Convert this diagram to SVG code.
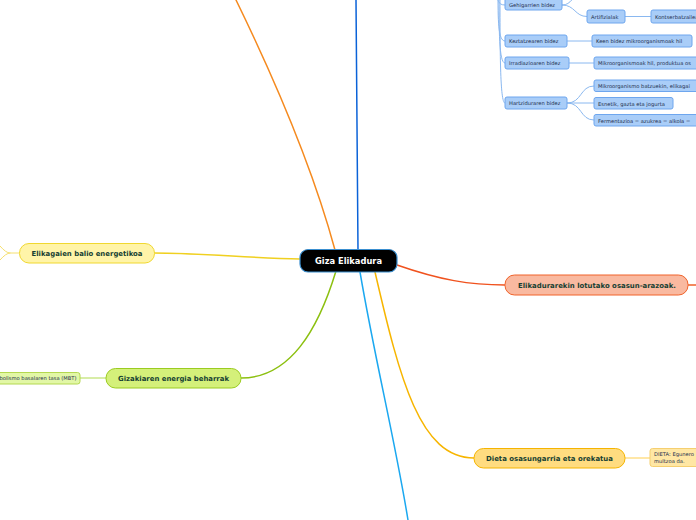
<svg xmlns="http://www.w3.org/2000/svg" width="696" height="520" viewBox="0 0 696 520">
<style>
.c{fill:none;stroke-linecap:round}
.main{font-family:"DejaVu Sans",Verdana,sans-serif;font-weight:bold;font-size:7px;fill:#163f32;text-anchor:middle}
.sm{font-family:"DejaVu Sans",Verdana,sans-serif;font-size:5.2px;fill:#1d2d4d}
.bn{fill:#a9cdf8;stroke:#6ea6ee;stroke-width:1}
.bl{fill:none;stroke:#8ab8f0;stroke-width:1}
</style>
<rect width="696" height="520" fill="#ffffff"/>
<g id="connectors">
<path class="c" d="M335,250 C312,165 275,80 236,0" stroke="#f58a1f" stroke-width="1.5"/>
<path class="c" d="M358,250 L356,0" stroke="#0a62d8" stroke-width="1.5"/>
<path class="c" d="M300,259 C250,258 200,253 154,253" stroke="#f0d020" stroke-width="1.5"/>
<path class="c" d="M336,271 C318,330 290,378 241,378" stroke="#8cc010" stroke-width="1.5"/>
<path class="c" d="M360,272 C375,360 395,440 408,520" stroke="#1ba8f0" stroke-width="1.5"/>
<path class="c" d="M375,272 C400,380 420,458 474,458" stroke="#f7b500" stroke-width="1.5"/>
<path class="c" d="M397,265 C440,280 470,285 505,285" stroke="#f0521e" stroke-width="1.5"/>
<path class="c" d="M688,285 L696,285" stroke="#f0622a" stroke-width="1.5"/>
<path class="c" d="M625,458 L650,458" stroke="#ffe08a" stroke-width="1.5"/>
<path class="c" d="M106,378 L80,378" stroke="#cce88a" stroke-width="1.5"/>
<path class="c" d="M19,253 L10,253 Q6,253 0,246 M10,253 Q6,253 0,260" stroke="#f5e070" stroke-width="1"/>
<path class="bl" d="M497,-10 C497,0 498,5 505,5"/>
<path class="bl" d="M498,-10 C498,20 498,41 505,41"/>
<path class="bl" d="M499,-10 C499,30 499,63 505,63"/>
<path class="bl" d="M500,-10 C500,50 500,103 505,103"/>
<path class="bl" d="M562,5 C572,5 572,-5 580,-5"/>
<path class="bl" d="M562,5 C575,5 575,16.5 587,16.5"/>
<path class="bl" d="M625,16.5 L651,16.5"/>
<path class="bl" d="M567,41 L592,41"/>
<path class="bl" d="M569,63 L594,63"/>
<path class="bl" d="M567,103 C582,103 580,86 594,86"/>
<path class="bl" d="M567,103 L594,103"/>
<path class="bl" d="M567,103 C582,103 580,120 594,120"/>
</g>
<g id="center">
<rect x="300" y="249.5" width="97" height="22.5" rx="8" fill="#000000" stroke="#3a8fd0" stroke-width="1.2"/>
<text x="348.5" y="264" font-family="DejaVu Sans,Verdana,sans-serif" font-weight="bold" font-size="8.3" fill="#ffffff" text-anchor="middle">Giza Elikadura</text>
</g>
<g id="n-balio">
<rect x="19.5" y="243.5" width="135" height="19.5" rx="9.5" fill="#fff4a8" stroke="#f0d830"/>
<text class="main" x="87" y="256" textLength="111" lengthAdjust="spacingAndGlyphs">Elikagaien balio energetikoa</text>
</g>
<g id="n-behar">
<rect x="106" y="368.5" width="135" height="19.5" rx="9.5" fill="#d4f07a" stroke="#9bcc20"/>
<text class="main" x="173.5" y="381" textLength="111" lengthAdjust="spacingAndGlyphs">Gizakiaren energia beharrak</text>
</g>
<g id="n-mbt">
<rect x="-40" y="372.5" width="120" height="11.5" rx="2.5" fill="#e2f7a6" stroke="#b4d850"/>
<text class="sm" x="76.5" y="380.3" text-anchor="end" fill="#1d3020">Metabolismo basalaren tasa (MBT)</text>
</g>
<g id="n-arazoak">
<rect x="505" y="275" width="183" height="20" rx="9.5" fill="#f9b9a0" stroke="#f0622a"/>
<text class="main" x="597" y="288" textLength="158" lengthAdjust="spacingAndGlyphs">Elikadurarekin lotutako osasun-arazoak.</text>
</g>
<g id="n-dieta">
<rect x="474" y="448.5" width="151" height="19.5" rx="9.5" fill="#ffdc80" stroke="#f5b400"/>
<text class="main" x="549.5" y="461" textLength="127" lengthAdjust="spacingAndGlyphs">Dieta osasungarria eta orekatua</text>
</g>
<g id="n-dieta-def">
<rect x="650" y="448.5" width="60" height="18" rx="2.5" fill="#ffe7a4" stroke="#f5cf70"/>
<text class="sm" x="654" y="456" fill="#2a2a10">DIETA: Egunero</text>
<text class="sm" x="654" y="463" fill="#2a2a10">multzoa da.</text>
</g>
<g id="n-gehigarri">
<rect class="bn" x="505" y="-3" width="57" height="13" rx="2"/>
<text class="sm" x="509" y="7">Gehigarrien bidez</text>
</g>
<g id="n-artifizial">
<rect class="bn" x="587" y="10" width="38" height="13" rx="2"/>
<text class="sm" x="591" y="18.5">Artifizialak</text>
</g>
<g id="n-kontserb">
<rect class="bn" x="651" y="10" width="60" height="13" rx="2"/>
<text class="sm" x="655" y="18.5">Kontserbatzaileak</text>
</g>
<g id="n-keztatze">
<rect class="bn" x="505" y="35" width="62" height="12" rx="2"/>
<text class="sm" x="509" y="43">Keztatzearen bidez</text>
</g>
<g id="n-kea">
<rect class="bn" x="592" y="35" width="100" height="12" rx="2"/>
<text class="sm" x="596" y="43">Keen bidez mikroorganismoak hil</text>
</g>
<g id="n-irradiazio">
<rect class="bn" x="505" y="57" width="64" height="12" rx="2"/>
<text class="sm" x="509" y="65">Irradiazioaren bidez</text>
</g>
<g id="n-irr-child">
<rect class="bn" x="594" y="57" width="120" height="12" rx="2"/>
<text class="sm" x="598" y="65">Mikroorganismoak hil, produktua os</text>
</g>
<g id="n-hartzidura">
<rect class="bn" x="505" y="97" width="62" height="12" rx="2"/>
<text class="sm" x="509" y="105">Hartziduraren bidez</text>
</g>
<g id="n-hz1">
<rect class="bn" x="594" y="80" width="120" height="11.5" rx="2"/>
<text class="sm" x="598" y="88">Mikroorganismo batzuekin, elikagai</text>
</g>
<g id="n-hz2">
<rect class="bn" x="594" y="97.5" width="79" height="11.5" rx="2"/>
<text class="sm" x="598" y="105.5">Esnetik, gazta eta jogurta</text>
</g>
<g id="n-hz3">
<rect class="bn" x="594" y="114.5" width="120" height="11.5" rx="2"/>
<text class="sm" x="598" y="122.5">Fermentazioa = azukrea = alkola = </text>
</g>
</svg>
